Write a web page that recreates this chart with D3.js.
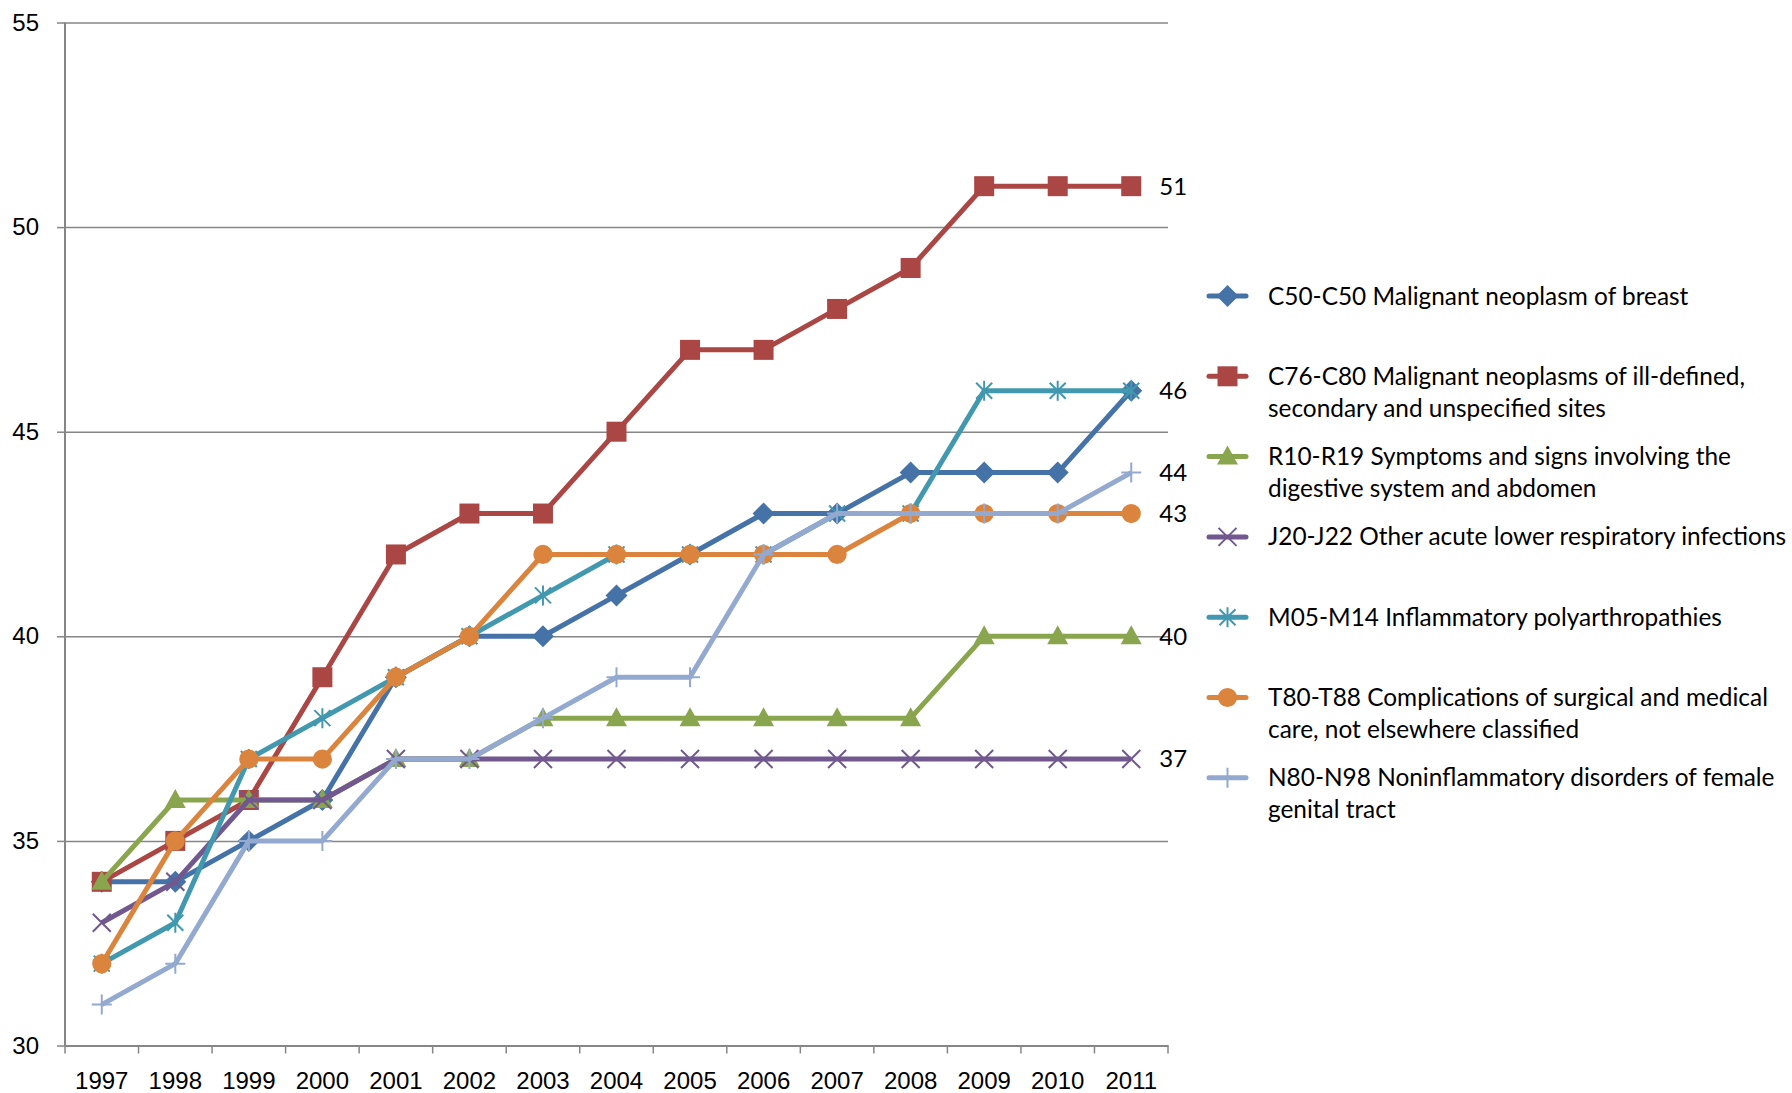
<!DOCTYPE html>
<html>
<head>
<meta charset="utf-8">
<script src="https://cdn.jsdelivr.net/npm/d3@7"></script>
<style>
  body { margin: 0; background: #fff; }
  svg { font-family: Lato, "Open Sans", sans-serif; }
</style>
</head>
<body>
<div id="chart"></div>
<script>
var years = ["1997","1998","1999","2000","2001","2002","2003","2004","2005","2006","2007","2008","2009","2010","2011"];

var c50 = [34,34,35,36,39,40,40,41,42,43,43,44,44,44,46];
var c76 = [34,35,36,39,42,43,43,45,47,47,48,49,51,51,51];
var r10 = [34,36,36,36,37,37,38,38,38,38,38,38,40,40,40];
var j20 = [33,34,36,36,37,37,37,37,37,37,37,37,37,37,37];
var m05 = [32,33,37,38,39,40,41,42,42,42,43,43,46,46,46];
var t80 = [32,35,37,37,39,40,42,42,42,42,42,43,43,43,43];
var n80 = [31,32,35,35,37,37,38,39,39,42,43,43,43,43,44];

var seriesNames = [
  ["C50-C50 Malignant neoplasm of breast"],
  ["C76-C80 Malignant neoplasms of ill-defined,", "secondary and unspecified sites"],
  ["R10-R19 Symptoms and signs involving the", "digestive system and abdomen"],
  ["J20-J22 Other acute lower respiratory infections"],
  ["M05-M14 Inflammatory polyarthropathies"],
  ["T80-T88 Complications of surgical and medical", "care, not elsewhere classified"],
  ["N80-N98 Noninflammatory disorders of female", "genital tract"]
];
var yTicks = [30, 35, 40, 45, 50, 55];
// which series get a value label at the last year
var showEndLabel = [true, true, true, true, false, true, true];

var colors = ["#4572A7", "#AA4643", "#89A54E", "#71588F", "#4198AF", "#DB843D", "#93A9CF"];
var markers = ["diamond", "square", "triangle", "times", "asterisk", "circle", "plus"];

var allSeries = [c50, c76, r10, j20, m05, t80, n80];

var W = 1792, H = 1093;
var margin = {left: 65, right: 1168, top: 22.5, bottom: 1045.5};

var svg = d3.select("#chart").append("svg")
    .attr("width", W)
    .attr("height", H);

var x = d3.scaleBand()
    .domain(years)
    .range([margin.left, margin.right]);

var y = d3.scaleLinear()
    .domain([30, 55])
    .range([margin.bottom, margin.top]);

// gridlines + y labels
svg.append("g")
    .attr("transform", "translate(" + margin.left + ",0)")
    .call(d3.axisLeft(y).tickValues(yTicks).tickSize(8).tickPadding(18))
    .call(function(g) {
      g.select(".domain").remove();
      g.selectAll(".tick line").clone()
        .attr("x2", margin.right - margin.left);
      g.selectAll(".tick line").attr("stroke", "#868686").attr("stroke-width", 1.5);
      g.selectAll(".tick text")
        .attr("fill", "#000")
        .style("font-size", "24px");
    });

// y axis line
svg.append("line")
    .attr("x1", margin.left).attr("x2", margin.left)
    .attr("y1", margin.top).attr("y2", margin.bottom)
    .attr("stroke", "#868686").attr("stroke-width", 2);

// x axis
var xAxis = svg.append("g")
    .attr("transform", "translate(0," + margin.bottom + ")")
    .call(d3.axisBottom(x).tickSize(0).tickPadding(26));
xAxis.select(".domain").attr("stroke", "#868686").attr("stroke-width", 2);
xAxis.selectAll(".tick text").attr("fill", "#000").style("font-size", "24px");
// tick marks at band edges
var edges = years.map(function(d) { return x(d); }).concat([x(years[years.length - 1]) + x.bandwidth()]);
xAxis.selectAll(".edge")
    .data(edges)
    .enter().append("line")
    .attr("x1", function(d) { return d; })
    .attr("x2", function(d) { return d; })
    .attr("y1", 0).attr("y2", 8)
    .attr("stroke", "#868686").attr("stroke-width", 1.5);

// excel-like marker shapes
function markerPath(type) {
  if (type == "diamond") return "M0,-11L11,0L0,11L-11,0Z";
  if (type == "square") return "M-10,-10H10V10H-10Z";
  if (type == "triangle") return "M0,-11L10.5,8L-10.5,8Z";
  if (type == "circle") return d3.symbol().type(d3.symbolCircle).size(290)();
  if (type == "times") return "M-9,-9L9,9M-9,9L9,-9";
  if (type == "asterisk") return "M-8,-8L8,8M-8,8L8,-8M0,-10V10";
  if (type == "plus") return "M-10,0H10M0,-10V10";
}
var strokeOnly = {times: true, asterisk: true, plus: true};

function drawMarker(sel, i) {
  var t = markers[i];
  sel.attr("d", markerPath(t))
    .attr("fill", strokeOnly[t] ? "none" : colors[i])
    .attr("stroke", colors[i])
    .attr("stroke-width", strokeOnly[t] ? 2 : 0);
}

var line = d3.line()
    .x(function(d, i) { return x(years[i]) + x.bandwidth() / 2; })
    .y(function(d) { return y(d); });

allSeries.forEach(function(vals, i) {
  var g = svg.append("g");
  g.append("path")
    .datum(vals)
    .attr("d", line)
    .attr("fill", "none")
    .attr("stroke", colors[i])
    .attr("stroke-width", 5)
    .attr("stroke-linejoin", "round");
  g.selectAll(".m")
    .data(vals)
    .enter().append("path")
    .attr("transform", function(d, k) {
      return "translate(" + (x(years[k]) + x.bandwidth() / 2) + "," + y(d) + ")";
    })
    .call(drawMarker, i);
});

// end-of-line value labels
allSeries.forEach(function(vals, i) {
  if (!showEndLabel[i]) return;
  var last = vals[vals.length - 1];
  svg.append("text")
    .attr("x", x(years[years.length - 1]) + x.bandwidth() / 2 + 28)
    .attr("y", y(last))
    .attr("dy", "0.35em")
    .style("font-size", "24px")
    .text(last);
});

// legend
var legend = svg.append("g").attr("transform", "translate(1209,296)");
seriesNames.forEach(function(lines, i) {
  var item = legend.append("g").attr("transform", "translate(0," + (i * 80.3) + ")");
  item.append("line")
    .attr("x1", 0).attr("x2", 37)
    .attr("stroke", colors[i]).attr("stroke-width", 5)
    .attr("stroke-linecap", "round");
  item.append("path")
    .attr("transform", "translate(18.5,0)")
    .call(drawMarker, i);
  lines.forEach(function(txt, k) {
    item.append("text")
      .attr("x", 59)
      .attr("y", k * 32)
      .attr("dy", "0.35em")
      .style("font-size", "24.4px")
      .text(txt);
  });
});
</script>
</body>
</html>
